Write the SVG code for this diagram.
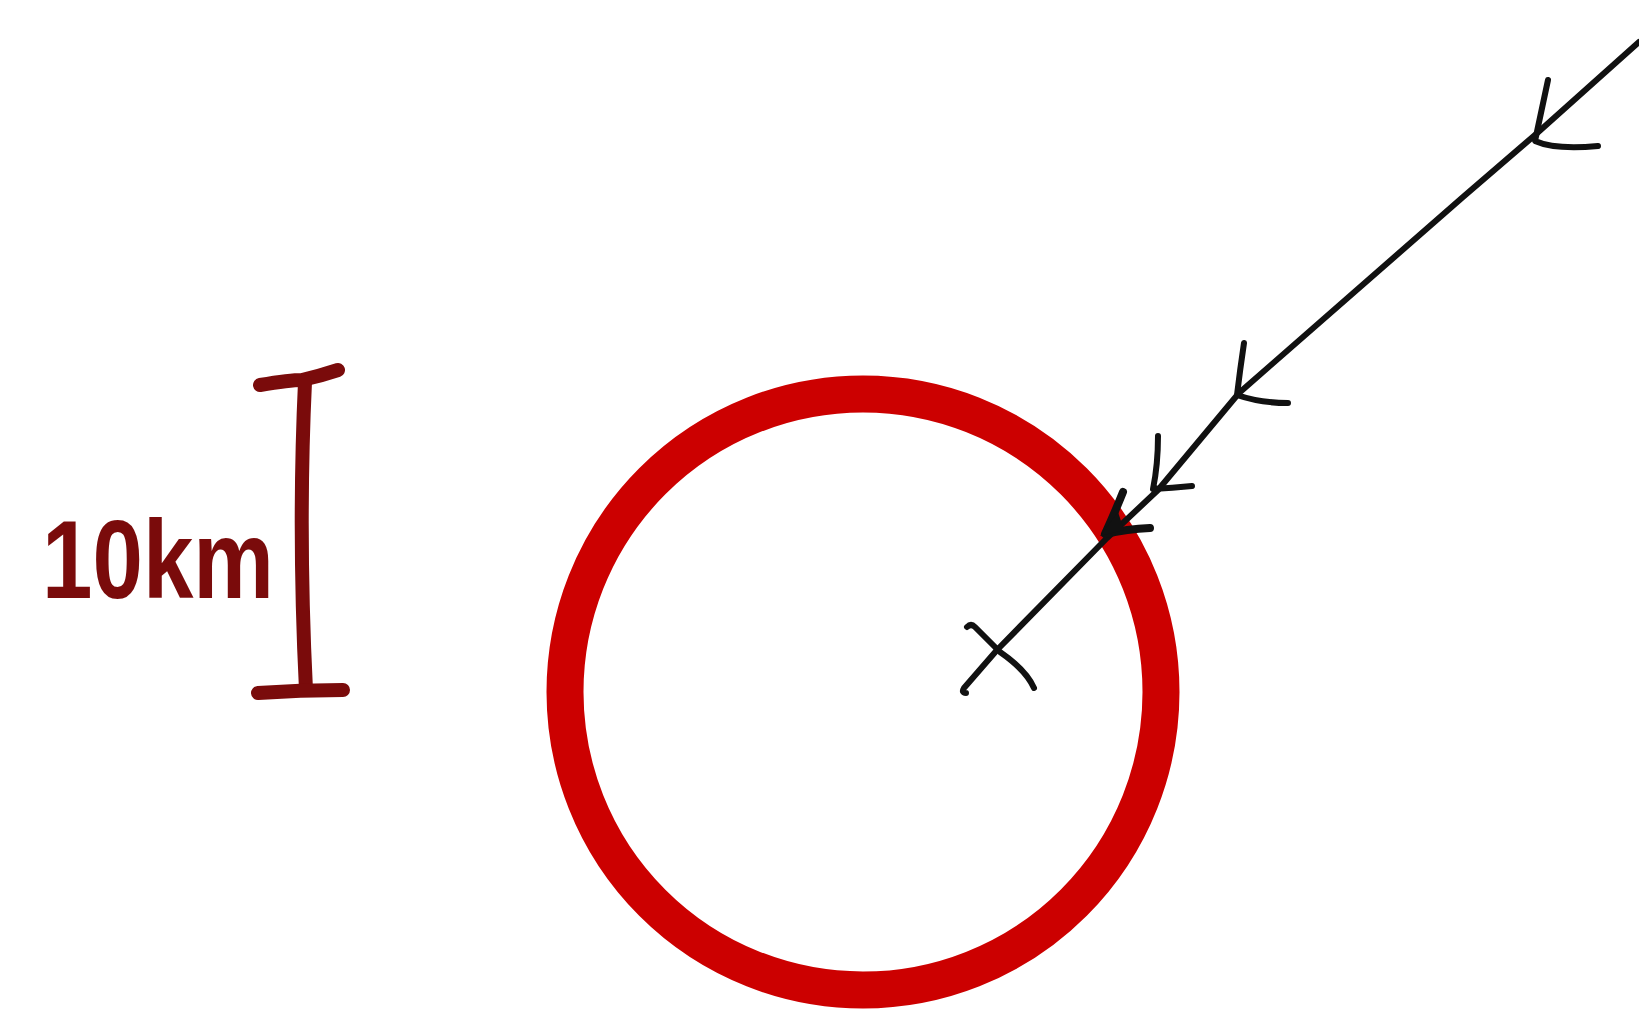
<svg xmlns="http://www.w3.org/2000/svg" width="1639" height="1013" viewBox="0 0 1639 1013">
<style>
.ink{fill:none;stroke:#111;stroke-linecap:round;stroke-linejoin:round}
.scale{fill:none;stroke:#7a0b0b;stroke-width:14;stroke-linecap:round;stroke-linejoin:round}
.lbl{font-family:"Liberation Sans",Arial,sans-serif;font-weight:bold;fill:#7a0b0b}
</style>
<rect width="1639" height="1013" fill="#fff"/>
<g id="ring">
<circle cx="863" cy="692" r="298" fill="none" stroke="#cc0000" stroke-width="37"/>
</g>
<g id="scale-bar">
<path class="scale" d="M260,385 Q290,380 302,380 Q320,376 338,370"/>
<path class="scale" d="M305,382 Q298,530 306,690"/>
<path class="scale" d="M258,693 Q300,690 343,690"/>
</g>
<g id="label">
<text class="lbl" x="42" y="598" font-size="112" textLength="232" lengthAdjust="spacingAndGlyphs">10km</text>
</g>
<g id="center-mark">
<path class="ink" stroke-width="6" d="M967,627 q4,-4 8,0 L1000,652 Q1026,670 1034,688"/>
</g>
<g id="connectors">
<path class="ink" stroke-width="6" d="M1639,42 L1535,135 L1463,197 L1239,393 L1158,490 L1107,538 L997,650 L964,688 q-3,5 2,5"/>
<path class="ink" stroke-width="6" d="M1548,80 Q1540,118 1535,141 Q1555,150 1598,146"/>
<path class="ink" stroke-width="6" d="M1244,343 Q1240,370 1237,395 Q1260,403 1288,403"/>
<path class="ink" stroke-width="6" d="M1158,436 Q1158,465 1153,489 Q1172,488 1192,486"/>
<path class="ink" stroke-width="8" d="M1123,492 Q1115,512 1105,534 Q1127,529 1150,528"/>
<path d="M1100,536 L1118,512 L1124,530 Z" fill="#111"/>
</g>
</svg>
